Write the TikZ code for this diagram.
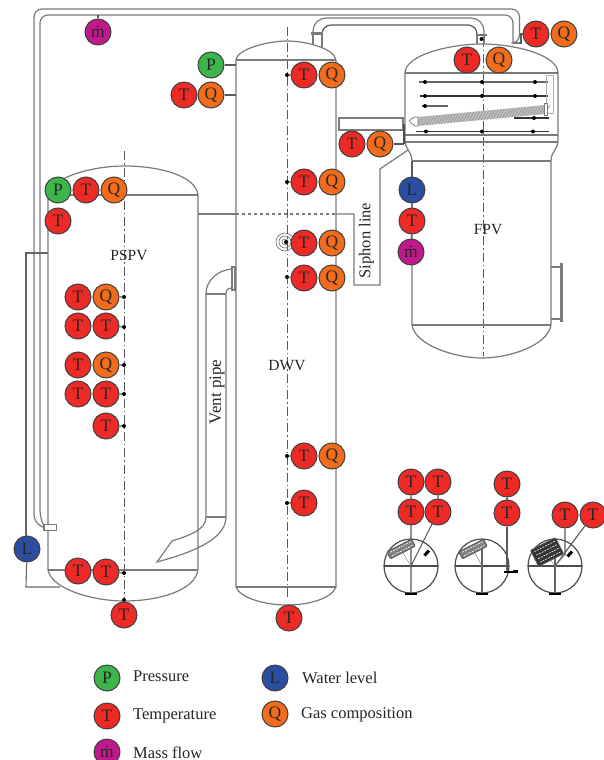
\documentclass[tikz,border=0pt]{standalone}
\usepackage{fontspec}
\setmainfont{Liberation Serif}
\usetikzlibrary{calc}
\definecolor{cT}{HTML}{EE2A27}
\definecolor{cQ}{HTML}{F36C1C}
\definecolor{cP}{HTML}{3CB54A}
\definecolor{cL}{HTML}{2B4EA2}
\definecolor{cM}{HTML}{C1188B}
\definecolor{wall}{HTML}{7A7A7A}
\tikzset{
 sensor/.style={circle,draw={black!75},line width=1pt,minimum size=26pt,inner sep=0pt,font=\fontsize{17.5}{17.5}\selectfont,text=black!85},
 sT/.style={sensor,fill=cT},
 sQ/.style={sensor,fill=cQ},
 sP/.style={sensor,fill=cP},
 sL/.style={sensor,fill=cL},
 sM/.style={sensor,fill=cM},
 vessel/.style={draw=wall,line width=1.2pt},
 pipe/.style={draw=wall,line width=1.2pt,rounded corners=8pt},
 axisline/.style={draw=black!65,line width=1pt,dash pattern=on 9pt off 3pt on 1.5pt off 3pt},
 link/.style={draw=black!65,line width=1.1pt},
 dotn/.style={circle,fill=black,inner sep=0pt,minimum size=4pt},
 rod/.style={draw=black!80,line width=1.1pt},
 vlabel/.style={font=\fontsize{15.5}{15.5}\selectfont,text=black!85},
 legend/.style={anchor=west,inner sep=0pt,font=\fontsize{16.5}{16.5}\selectfont,text=black!85},
 dial/.style={draw=black!70,line width=1.2pt},
 bundle/.style={draw=black!65,fill=black!50,line width=0.8pt,rounded corners=1pt},
}
\newcommand\TN[2]{\node[sT] (#1) at (#2) {T};}
\newcommand\QN[2]{\node[sQ] (#1) at (#2) {Q};}
\newcommand\PN[2]{\node[sP] (#1) at (#2) {P};}
\newcommand\LN[2]{\node[sL] (#1) at (#2) {L};}
\newcommand\MN[2]{\node[sM] (#1) at (#2) {ṁ};}
\begin{document}
\begin{tikzpicture}[x=1pt,y=-1pt]
\useasboundingbox (0,0) rectangle (604,760);
\fill[white] (0,0) rectangle (604,760);
% axes
\draw[axisline] (124,151) -- (124,600);
\draw[axisline] (287,27) -- (287,600);
\draw[axisline] (483,38) -- (483,356);
% PSPV
\draw[vessel] (48,570) -- (48,195) .. controls (52,176) and (95,166) .. (124,166) .. controls (160,166) and (196,176) .. (198,195) -- (198,570);
\draw[vessel] (48,195) -- (198,195);
\draw[vessel] (48,570) -- (198,570);
\draw[vessel] (48,570) .. controls (52,590) and (95,601) .. (124,601) .. controls (160,601) and (195,590) .. (198,570);
% DWV
\draw[vessel] (236,587) -- (236,60) .. controls (238,48) and (270,41) .. (287,41) .. controls (305,41) and (334,48) .. (336,60) -- (336,587);
\draw[vessel] (236,60) -- (336,60);
\draw[vessel] (236,587) -- (336,587);
\draw[vessel] (236,587) .. controls (240,598) and (265,605) .. (287,605) .. controls (310,605) and (332,598) .. (336,587);
% FPV
\draw[vessel] (405,142) -- (405,73) .. controls (405,55) and (450,44) .. (482,44) .. controls (515,44) and (558,55) .. (558,73) -- (558,142);
\draw[vessel] (405,73) -- (558,73);
\draw[vessel] (405,135) -- (558,135);
\draw[vessel] (405,142) -- (558,142);
\draw[vessel] (405,142) .. controls (405,148) and (412,152) .. (412,161) -- (412,325);
\draw[vessel] (558,142) .. controls (558,148) and (551,152) .. (551,161) -- (551,325);
\draw[vessel] (412,161) -- (551,161);
\draw[vessel] (412,325) -- (551,325);
\draw[vessel] (412,325) .. controls (415,345) and (455,358) .. (482,358) .. controls (510,358) and (548,345) .. (551,325);
% FPV side nozzle
\draw[vessel] (551,267) -- (561,267) (551,319) -- (561,319);
\draw[draw=wall,line width=2.4pt] (561.5,263) -- (561.5,322);
% FPV internals
\draw[rod,draw=black!60] (419,82) -- (548,82);
\draw[rod] (420,96) -- (548,96);
\draw[rod,draw=black!60] (422,106) -- (448,106);
\draw[rod] (514,118) -- (549,118);
\draw[rod] (416,131.5) -- (549,131.5);
\foreach \n/\x/\y in {a/425/82,b/482/82,c/535/82,d/425/96,e/482/96,f/535/96,g/425/106,h/534/118,i/426/131.5,j/482/131.5,k/533/131.5}
  \node[dotn] (fp\n) at (\x,\y) {};
\draw[draw=wall!60,line width=0.8pt] (546,75) rectangle (553,113);
\fill[black!25] (417,117) -- (545,105) -- (545,114) -- (417,126) -- cycle;
\foreach \t in {0,...,42}
  \draw[black!45,line width=0.5pt] ($(417,126)!\t/42!(545,114)$) -- ++(5,-9);
\draw[wall,line width=0.7pt,fill=white] (415,117) -- (418,117) -- (418,126) -- (415,126) -- (411,123) -- (409,121) -- (411,119) -- cycle;
\draw[wall,line width=0.7pt,fill=white] (544,103) rectangle (547,115);
% siphon line
\draw[vessel] (198,214) -- (236,214);
\draw[vessel,dashed] (236,214) -- (336,214);
\draw[vessel] (336,214) -- (354,214) -- (354,285) -- (380,285) -- (380,169) -- (408,150);
% top pipe DWV -> FPV
\draw[pipe,rounded corners=13pt] (313,33) -- (313,18) -- (484,18) -- (484,35);
\draw[pipe,rounded corners=9pt,draw=black!65] (322,33) -- (322,25) -- (477,25) -- (477,35);
\draw[vessel] (313,33) -- (313,45);
\draw[vessel] (322,33) -- (322,47);
\draw[vessel] (477,35) -- (477,44) (484,35) -- (484,44);
\draw[draw=wall,line width=2.4pt] (311,33.5) -- (323,33.5);
\draw[draw=wall,line width=2.4pt] (476,35) -- (487,35);
% horizontal pipe DWV -> FPV
\draw[vessel] (340,118) -- (402,118) (340,130) -- (402,130);
\draw[draw=wall,line width=2.8pt] (339,117) -- (339,131);
\draw[draw=wall,line width=2.8pt] (403,117) -- (403,131);
% long outer pipe
\draw[pipe] (516,43) -- (519.5,43) -- (519.5,9) -- (34,9) -- (34,523) -- (43,527);
\draw[pipe] (513,43) -- (513,15) -- (40,15) -- (40,518) -- (43,524);
\draw[draw=wall,line width=2.4pt] (513,43) -- (521,43);
\draw[draw=wall,line width=0.9pt,fill=white] (43,524) rectangle (56,530);
\draw[draw=wall,line width=1.8pt] (44,524) -- (44,530);
% vent pipe
\draw[vessel] (232,269) .. controls (218,270) and (206,280) .. (206,294) -- (206,517) .. controls (206,530) and (190,535) .. (172,541) -- (157,562) .. controls (190,553) and (226,540) .. (226,517) -- (226,294) .. controls (226,290) and (228,288) .. (232,288);
\draw[vessel] (206,294) -- (226,294);
\draw[vessel] (206,517) -- (226,517);
\draw[draw=wall,line width=1.2pt] (232,267) rectangle (235,290);
% level pipe
\draw[draw=black!60,line width=1.1pt] (48,253) -- (26,253) -- (26,536);
% sensors PSPV
\PN{p1}{58,190}
\TN{t1}{86,190}
\QN{q1}{114,190}
\TN{t2}{58,221}
\TN{t3}{78,297} \QN{q3}{106,297} \node[dotn] (d3) at (124,297) {};
\TN{t4}{78,326} \TN{t5}{106,326} \node[dotn] (d4) at (124,327) {};
\TN{t6}{78,365} \QN{q6}{106,365} \node[dotn] (d6) at (124,365) {};
\TN{t7}{78,394} \TN{t8}{106,394} \node[dotn] (d7) at (124,394) {};
\TN{t9}{106,426} \node[dotn] (d9) at (124,426) {};
\TN{t10}{78,571} \TN{t11}{106,572} \node[dotn] (d10) at (124,573) {};
\TN{t12}{124,615} \node[dotn] (d12) at (124,600) {};
\LN{l1}{27,549}
\coordinate (lb1) at (26,587);
\coordinate (lb2) at (60,587);
\draw[draw=black!60,line width=1.1pt] (l1) -- (lb1) -- (lb2);
\draw[link] (d3) -- (q3) (d4) -- (t5) (d6) -- (q6) (d7) -- (t8) (d9) -- (t9) (d10) -- (t11) (d12) -- (t12);
% mass flow on the long pipe
\MN{m1}{98,32}
\coordinate (m1top) at (98,15);
\draw[link] (m1) -- (m1top);
% sensors DWV
\PN{p2}{211,65}
\QN{q2}{211,95}
\TN{t13}{184,95}
\coordinate (w1) at (236,65); \coordinate (w2) at (236,95);
\draw[link] (p2) -- (w1) (q2) -- (w2);
\TN{t14}{304,75} \QN{q14}{332,75} \node[dotn] (d14) at (287,75) {};
\TN{t15}{304,182} \QN{q15}{332,182} \node[dotn] (d15) at (287,182) {};
\node[draw=black!60,circle,minimum size=18pt,inner sep=0pt,line width=0.6pt] (s1) at (285,242) {};
\node[draw=black!60,circle,minimum size=12pt,inner sep=0pt,line width=0.6pt] (s2) at (285,242) {};
\node[draw=black!60,circle,minimum size=6pt,inner sep=0pt,line width=0.6pt] (s3) at (285,242) {};
\node[dotn] (s4) at (286,242) {};
\TN{t16}{304,243} \QN{q16}{332,243}
\TN{t17}{304,278} \QN{q17}{332,278} \node[dotn] (d17) at (287,277) {};
\TN{t18}{304,456} \QN{q18}{332,456} \node[dotn] (d18) at (287,456) {};
\TN{t19}{304,503} \node[dotn] (d19) at (287,503) {};
\TN{t20}{289,618}
\draw[link] (d14) -- (t14) (d15) -- (t15) (d17) -- (t17) (d18) -- (t18) (d19) -- (t19);
% sensors FPV
\TN{t21}{467,60} \QN{q21}{499,60}
\node[dotn] (d21) at (481.5,39) {};
\TN{t22}{536,34} \QN{q22}{564,34}
\coordinate (w3) at (521,34); \coordinate (w4) at (521,44);
\draw[link] (t22) -- (w3) -- (w4);
\TN{t23}{352,144} \QN{q23}{380,144}
\coordinate (w5) at (404,144); \coordinate (w6) at (404,124);
\draw[link] (q23) -- (w5);
\draw[draw=black!70,line width=1.8pt] (w5) -- (w6);
\LN{l2}{412,190} \TN{t24}{412,221} \MN{m2}{411,252}
\draw[link] (l2) -- (t24) -- (m2);
\coordinate (lw) at (412,161);
\draw[link] (l2) -- (lw);
% labels
\node[vlabel] (lpspv) at (129,255) {PSPV};
\node[vlabel] (ldwv) at (287,366) {DWV};
\node[vlabel] (lfpv) at (488,230) {FPV};
\node[vlabel,rotate=90,font=\fontsize{16.5}{16.5}\selectfont] (lsiphon) at (366.5,240.5) {Siphon line};
\node[vlabel,rotate=90,font=\fontsize{17}{17}\selectfont] (lvent) at (217,392) {Vent pipe};
% cross-section 1
\node[circle,dial,minimum size=54pt,inner sep=0pt] (c1) at (411,566) {};
\coordinate (c1o) at (411,566);
\coordinate (c1b) at (411,593); \coordinate (c1l) at (384,566); \coordinate (c1r) at (438,566);
\draw[dial] (c1l) -- (c1r);
\TN{a1}{411,482} \TN{a2}{438,482}
\TN{a3}{411,512} \TN{a4}{438,512}
\draw[link] (a1) -- (a3) (a2) -- (a4) (a3) -- (c1b) (a4) -- (c1o);
\draw[wall] (c1o) -- (403,553);
\draw[line width=3pt,black] (424.5,555.5) -- (429,550.5);
\draw[line width=2.5pt,black] (405,594) -- (417,594);
\begin{scope}[shift={(401,549)},rotate=27]
\draw[bundle] (-14,-4) rectangle (14,4);
\foreach \i in {-11,-8,...,11} \draw[white,line width=0.6pt] (\i,-2) -- (\i+2,-2) (\i,2) -- (\i+2,2);
\end{scope}
% cross-section 2
\node[circle,dial,minimum size=54pt,inner sep=0pt] (c2) at (482,566) {};
\coordinate (c2o) at (482,566);
\coordinate (c2t) at (482,539); \coordinate (c2b) at (482,593); \coordinate (c2l) at (455,566); \coordinate (c2r) at (509,566);
\draw[dial] (c2l) -- (c2r);
\draw[dial,black!60] (c2t) -- (c2b);
\TN{b1}{507,484} \TN{b2}{507,513}
\coordinate (b3) at (507,572);
\draw[link] (b1) -- (b2) (b2) -- (b3);
\draw[line width=1.2pt,black] (504,572) -- (518,572);
\draw[line width=2pt,black] (513,570.5) -- (518,570.5);
\draw[line width=2.5pt,black] (476,594) -- (488,594);
\draw[wall] (c2o) -- (475,553);
\begin{scope}[shift={(473,549)},rotate=27]
\draw[bundle] (-14,-4) rectangle (14,4);
\foreach \i in {-11,-8,...,11} \draw[white,line width=0.6pt] (\i,-2) -- (\i+2,-2) (\i,2) -- (\i+2,2);
\end{scope}
% cross-section 3
\node[circle,dial,minimum size=54pt,inner sep=0pt] (c3) at (555,566) {};
\coordinate (c3o) at (555,566);
\coordinate (c3t) at (555,552); \coordinate (c3b) at (555,593); \coordinate (c3l) at (528,566); \coordinate (c3r) at (582,566);
\draw[dial] (c3l) -- (c3r);
\draw[dial,black!60] (c3t) -- (c3b);
\TN{e1}{565,515} \TN{e2}{593,515}
\coordinate (e3) at (565,555);
\draw[link] (e1) -- (e3) (e2) -- (c3o);
\draw[wall] (565,555) -- (c3o) (547,555) -- (c3o);
\draw[line width=3pt,black] (567.5,556.5) -- (572,551.5);
\draw[line width=2.5pt,black] (549,594) -- (561,594);
\begin{scope}[shift={(547,552)},rotate=27]
\draw[bundle,fill=black!80] (-14,-9) rectangle (14,9);
\foreach \j in {-6,-2,2,6} \foreach \i in {-11,-8,...,11} \draw[white,line width=0.6pt] (\i,\j) -- (\i+2,\j);
\end{scope}
% legend
\PN{lp}{107,678} \node[legend] (tp) at (133,676) {Pressure};
\TN{lt}{107,716} \node[legend] (tt) at (133,716) {Temperature};
\MN{lm}{107,752} \node[legend] (tm) at (133,753) {Mass flow};
\LN{ll}{275,678} \node[legend] (tl) at (302,678) {Water level};
\QN{lq}{275,714} \node[legend] (tq) at (301,715) {Gas composition};
\end{tikzpicture}
\end{document}
